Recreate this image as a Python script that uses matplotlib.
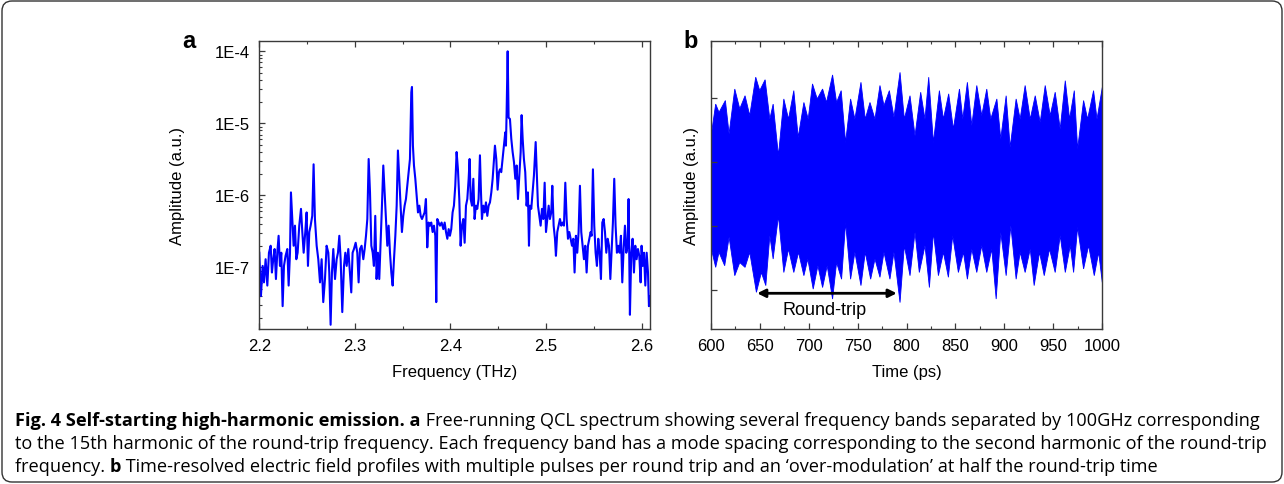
import numpy as np
import matplotlib
matplotlib.use("Agg")
import matplotlib.pyplot as plt
from matplotlib.ticker import MultipleLocator, LogLocator, NullFormatter, FixedLocator
from matplotlib.patches import FancyBboxPatch
from matplotlib.transforms import IdentityTransform

# panel a: spectrum (THz, a.u.)
freq_thz = [
    2.2000, 2.2017, 2.2035, 2.2049, 2.2066, 2.2084, 2.2101, 2.2119, 2.2132, 2.2146,
    2.2160, 2.2174, 2.2188, 2.2202, 2.2216, 2.2230, 2.2244, 2.2258, 2.2275, 2.2293,
    2.2307, 2.2321, 2.2331, 2.2345, 2.2359, 2.2373, 2.2387, 2.2401, 2.2418, 2.2436,
    2.2450, 2.2464, 2.2481, 2.2495, 2.2509, 2.2523, 2.2537, 2.2554, 2.2568, 2.2582,
    2.2600, 2.2617, 2.2635, 2.2652, 2.2669, 2.2687, 2.2704, 2.2722, 2.2732, 2.2746,
    2.2760, 2.2774, 2.2792, 2.2809, 2.2823, 2.2837, 2.2851, 2.2868, 2.2886, 2.2900,
    2.2914, 2.2931, 2.2948, 2.2962, 2.2976, 2.2990, 2.3008, 2.3025, 2.3039, 2.3053,
    2.3070, 2.3088, 2.3102, 2.3116, 2.3130, 2.3144, 2.3158, 2.3172, 2.3186, 2.3199,
    2.3213, 2.3227, 2.3241, 2.3255, 2.3269, 2.3283, 2.3297, 2.3311, 2.3325, 2.3339,
    2.3353, 2.3367, 2.3381, 2.3395, 2.3409, 2.3423, 2.3437, 2.3450, 2.3464, 2.3478,
    2.3492, 2.3506, 2.3520, 2.3534, 2.3548, 2.3562, 2.3576, 2.3590, 2.3597, 2.3607,
    2.3618, 2.3632, 2.3646, 2.3660, 2.3674, 2.3688, 2.3702, 2.3715, 2.3729, 2.3743,
    2.3757, 2.3771, 2.3785, 2.3799, 2.3813, 2.3827, 2.3841, 2.3851, 2.3862, 2.3876,
    2.3890, 2.3907, 2.3925, 2.3939, 2.3953, 2.3967, 2.3981, 2.3994, 2.4008, 2.4022,
    2.4036, 2.4050, 2.4064, 2.4078, 2.4092, 2.4106, 2.4120, 2.4134, 2.4148, 2.4162,
    2.4176, 2.4190, 2.4200, 2.4211, 2.4225, 2.4239, 2.4252, 2.4266, 2.4280, 2.4294,
    2.4308, 2.4319, 2.4329, 2.4343, 2.4357, 2.4371, 2.4385, 2.4399, 2.4413, 2.4427,
    2.4441, 2.4455, 2.4465, 2.4479, 2.4493, 2.4507, 2.4517, 2.4531, 2.4545, 2.4559,
    2.4573, 2.4580, 2.4587, 2.4598, 2.4608, 2.4622, 2.4636, 2.4650, 2.4664, 2.4678,
    2.4692, 2.4706, 2.4720, 2.4734, 2.4744, 2.4755, 2.4768, 2.4782, 2.4796, 2.4810,
    2.4821, 2.4831, 2.4845, 2.4859, 2.4873, 2.4891, 2.4901, 2.4915, 2.4929, 2.4943,
    2.4957, 2.4971, 2.4985, 2.4999, 2.5013, 2.5027, 2.5040, 2.5054, 2.5065, 2.5079,
    2.5093, 2.5103, 2.5117, 2.5131, 2.5145, 2.5159, 2.5173, 2.5187, 2.5201, 2.5215,
    2.5229, 2.5243, 2.5257, 2.5271, 2.5285, 2.5298, 2.5312, 2.5326, 2.5340, 2.5354,
    2.5368, 2.5382, 2.5396, 2.5410, 2.5424, 2.5438, 2.5452, 2.5466, 2.5476, 2.5490,
    2.5504, 2.5518, 2.5532, 2.5546, 2.5560, 2.5574, 2.5588, 2.5602, 2.5616, 2.5630,
    2.5644, 2.5658, 2.5672, 2.5686, 2.5699, 2.5713, 2.5727, 2.5741, 2.5755, 2.5769,
    2.5783, 2.5797, 2.5811, 2.5825, 2.5839, 2.5853, 2.5863, 2.5877, 2.5891, 2.5905,
    2.5919, 2.5933, 2.5947, 2.5961, 2.5975, 2.5989, 2.5999, 2.6010, 2.6024, 2.6038,
    2.6052, 2.6066, 2.6076, 2.6087,
]
amplitude = [
    1.6e-7, 4.0e-8, 1.05e-7, 6.2e-8, 1.3e-7, 5.6e-8, 1.6e-7, 2.0e-7, 8.5e-8, 1.3e-7,
    1.8e-7, 6.9e-8, 1.6e-7, 2.75e-7, 1.05e-7, 1.6e-7, 2.9e-8, 1.05e-7, 1.45e-7, 1.8e-7,
    5.6e-8, 1.6e-7, 1.1e-6, 4.7e-7, 2.0e-7, 3.8e-7, 1.3e-7, 1.6e-7, 3.8e-7, 6.5e-7,
    3.1e-7, 1.6e-7, 3.1e-7, 5.8e-7, 1.05e-7, 3.1e-7, 3.8e-7, 5.2e-7, 2.7e-6, 4.7e-7,
    2.0e-7, 1.3e-7, 6.2e-8, 1.3e-7, 3.3e-8, 6.9e-8, 2.0e-7, 1.6e-7, 8.5e-8, 1.6e-8,
    8.5e-8, 1.8e-7, 6.9e-8, 1.3e-7, 1.6e-7, 2.75e-7, 1.3e-7, 2.4e-8, 1.05e-7, 1.6e-7,
    1.05e-7, 1.8e-7, 8.5e-8, 4.5e-8, 1.6e-7, 1.8e-7, 2.2e-7, 1.6e-7, 6.2e-8, 1.8e-7,
    2.0e-7, 1.3e-7, 1.8e-7, 2.75e-7, 4.7e-7, 3.2e-6, 1.1e-6, 2.0e-7, 1.6e-7, 1.05e-7,
    5.2e-7, 6.9e-8, 1.6e-7, 6.9e-8, 2.2e-7, 7.2e-7, 2.6e-6, 1.1e-6, 4.7e-7, 2.0e-7,
    3.8e-7, 1.6e-7, 8.5e-8, 5.6e-8, 1.3e-7, 2.75e-7, 7.2e-7, 4.2e-6, 1.7e-6, 7.2e-7,
    3.1e-7, 5.2e-7, 7.2e-7, 8.9e-7, 1.36e-6, 2.1e-6, 3.2e-6, 2.7e-5, 3.2e-5, 4.9e-6,
    2.6e-6, 1.7e-6, 9.9e-7, 5.8e-7, 7.2e-7, 5.2e-7, 4.7e-7, 5.2e-7, 5.8e-7, 8.9e-7,
    1.9e-7, 4.2e-7, 3.8e-7, 4.2e-7, 3.1e-7, 3.8e-7, 2.75e-7, 3.3e-8, 4.7e-7, 4.2e-7,
    3.8e-7, 4.2e-7, 3.4e-7, 4.2e-7, 3.1e-7, 2.5e-7, 3.4e-7, 2.75e-7, 3.4e-7, 5.8e-7,
    7.2e-7, 1.36e-6, 4.0e-6, 2.3e-6, 8.9e-7, 2.0e-7, 3.8e-7, 4.7e-7, 2.2e-7, 7.2e-7,
    8.9e-7, 1.7e-6, 3.2e-6, 8.9e-7, 7.2e-7, 1.7e-6, 4.7e-7, 7.2e-7, 6.5e-7, 8.9e-7,
    3.6e-6, 1.1e-6, 4.7e-7, 7.2e-7, 5.8e-7, 8.0e-7, 5.2e-7, 7.2e-7, 8.0e-7, 1.1e-6,
    1.7e-6, 3.2e-6, 4.9e-6, 3.2e-6, 1.2e-6, 2.1e-6, 2.3e-6, 2.1e-6, 3.2e-6, 4.9e-6,
    7.5e-6, 4.9e-6, 1.4e-5, 1.0e-4, 1.2e-5, 1.15e-5, 6.1e-6, 4.0e-6, 2.9e-6, 1.7e-6,
    2.6e-6, 8.9e-7, 1.9e-6, 4.0e-6, 1.3e-5, 6.1e-6, 3.2e-6, 2.1e-6, 7.2e-7, 1.1e-6,
    2.0e-7, 7.2e-7, 6.5e-7, 1.1e-6, 1.9e-6, 5.5e-6, 2.3e-6, 7.2e-7, 5.2e-7, 3.8e-7,
    6.5e-7, 4.7e-7, 1.5e-6, 3.1e-7, 4.7e-7, 7.2e-7, 4.7e-7, 5.8e-7, 1.36e-6, 3.8e-7,
    2.5e-7, 1.45e-7, 3.1e-7, 3.8e-7, 4.7e-7, 3.8e-7, 4.2e-7, 3.8e-7, 1.5e-6, 4.7e-7,
    2.5e-7, 3.1e-7, 2.5e-7, 2.0e-7, 2.5e-7, 8.5e-8, 2.75e-7, 1.6e-7, 3.1e-7, 1.36e-6,
    3.1e-7, 2.0e-7, 1.3e-7, 2.0e-7, 8.5e-8, 2.0e-7, 2.5e-7, 3.1e-7, 2.75e-7, 2.3e-6,
    3.8e-7, 1.6e-7, 1.05e-7, 2.5e-7, 1.6e-7, 6.9e-8, 4.2e-7, 4.7e-7, 3.1e-7, 1.6e-7,
    2.5e-7, 2.0e-7, 6.9e-8, 1.8e-7, 4.2e-7, 1.7e-6, 3.8e-7, 1.6e-7, 2.0e-7, 1.6e-7,
    2.75e-7, 6.2e-8, 1.8e-7, 3.8e-7, 1.6e-7, 2.0e-7, 8.9e-7, 2.2e-8, 1.6e-7, 2.5e-7,
    8.5e-8, 2.0e-7, 1.3e-7, 1.8e-7, 1.45e-7, 6.2e-8, 2.0e-7, 1.05e-7, 1.6e-7, 5.6e-8,
    1.6e-7, 8.5e-8, 2.9e-8, 4.0e-8,
]

# panel b: field envelope (ps, a.u.), upper and lower edges
time_up = [
    600.0, 605.1, 608.5, 615.0, 618.8, 624.6, 629.7, 635.1, 639.9, 646.0,
    650.1, 655.6, 660.4, 663.8, 669.2, 674.7, 679.5, 684.9, 689.4, 695.2,
    699.6, 704.0, 708.8, 714.3, 718.3, 724.5, 728.6, 733.3, 737.8, 742.9,
    747.3, 753.5, 757.9, 762.7, 767.8, 772.9, 777.0, 782.5, 787.2, 793.4,
    797.8, 803.6, 808.7, 814.5, 818.9, 822.7, 827.5, 833.6, 837.7, 843.1,
    847.9, 854.1, 857.5, 862.2, 866.7, 871.8, 876.9, 882.0, 886.1, 892.3,
    896.3, 901.8, 905.9, 912.0, 916.1, 921.2, 926.4, 931.5, 936.6, 941.7,
    946.8, 951.9, 957.0, 962.2, 966.6, 971.4, 974.8, 980.9, 985.0, 991.1,
    994.6, 1000.0,
]
field_up = [
    1.72, 2.81, 2.55, 2.92, 1.88, 3.28, 2.66, 3.07, 2.45, 3.65,
    3.23, 3.57, 2.34, 2.81, 1.20, 2.97, 2.34, 3.23, 1.77, 2.86,
    2.34, 3.44, 2.97, 3.28, 2.86, 3.72, 2.86, 3.23, 1.61, 2.97,
    2.34, 3.49, 2.34, 2.86, 2.34, 3.39, 2.76, 3.23, 2.40, 3.80,
    2.34, 3.07, 1.82, 3.18, 2.34, 3.65, 1.61, 3.23, 2.34, 3.13,
    2.03, 3.28, 2.34, 3.49, 2.14, 3.39, 2.45, 3.28, 2.34, 2.97,
    1.72, 3.07, 1.46, 2.97, 2.34, 3.39, 2.34, 3.07, 2.24, 3.39,
    2.45, 3.18, 2.03, 3.54, 2.34, 3.23, 1.41, 2.92, 2.34, 3.23,
    2.34, 3.33,
]
time_lo = [
    600.0, 605.1, 608.5, 614.3, 618.8, 624.6, 629.7, 635.1, 639.9, 646.7,
    651.8, 656.3, 660.4, 663.8, 669.2, 674.7, 679.5, 684.9, 689.7, 695.2,
    699.2, 704.7, 709.5, 714.3, 719.0, 724.5, 728.6, 733.7, 737.8, 742.9,
    747.3, 753.5, 757.9, 763.4, 767.8, 772.9, 777.0, 783.1, 787.2, 793.4,
    797.8, 803.6, 808.7, 813.1, 818.9, 823.4, 827.5, 832.6, 837.7, 842.8,
    847.2, 853.0, 858.2, 862.2, 866.7, 871.8, 876.9, 882.0, 887.1, 891.6,
    896.3, 901.8, 906.6, 912.0, 916.1, 921.2, 926.4, 930.4, 935.9, 940.7,
    946.1, 951.9, 957.0, 962.2, 967.3, 970.7, 974.8, 980.9, 986.0, 991.8,
    996.3, 1000.0,
]
field_lo = [
    -1.63, -2.29, -1.82, -2.24, -1.35, -2.55, -2.14, -2.29, -1.82, -3.07,
    -2.45, -2.86, -1.30, -2.03, -0.68, -2.45, -1.72, -2.45, -1.82, -2.55,
    -2.03, -2.97, -2.24, -2.92, -2.24, -3.28, -2.14, -2.66, -0.89, -2.66,
    -1.82, -2.86, -1.82, -2.66, -2.03, -2.60, -1.82, -2.66, -1.82, -3.39,
    -1.61, -2.55, -1.20, -2.45, -1.61, -2.92, -1.20, -2.55, -1.82, -2.60,
    -1.30, -2.45, -1.82, -2.66, -1.72, -2.45, -1.61, -2.45, -1.72, -3.28,
    -1.20, -2.55, -0.99, -2.66, -1.82, -2.45, -1.72, -2.86, -1.82, -2.55,
    -1.72, -2.45, -1.30, -2.45, -1.61, -2.45, -1.04, -2.34, -1.61, -2.55,
    -1.82, -2.76,
]

freq_ticks = [2.2, 2.3, 2.4, 2.5, 2.6]
amp_ticks = [1e-7, 1e-6, 1e-5, 1e-4]
amp_labels = ["1E-7", "1E-6", "1E-5", "1E-4"]
time_ticks = [600, 650, 700, 750, 800, 850, 900, 950, 1000]

W, H = 1284, 485
BLUE = "#0000ff"
FRAME = "#3a3a3a"
plt.rcParams["font.family"] = ["Liberation Sans", "DejaVu Sans"]

fig = plt.figure(figsize=(W / 100, H / 100), dpi=100)


def style_axes(ax):
    for sp in ax.spines.values():
        sp.set_color(FRAME)
        sp.set_linewidth(1.0)
    ax.tick_params(which="both", direction="in", top=True, right=False,
                   colors=FRAME, labelcolor="black", labelsize=12)
    ax.tick_params(which="major", length=4, width=0.9, pad=7)
    ax.tick_params(which="minor", length=2.5, width=0.8)


# ---- panel a
ax1 = fig.add_axes([259.3 / W, 1 - 329.5 / H, 390.7 / W, 287.5 / H])
ax1.semilogy(freq_thz, amplitude, color=BLUE, lw=1.5)
ax1.set_xlim(2.2, 2.6087)
ax1.set_ylim(1.42e-8, 1.39e-4)
ax1.set_xticks(freq_ticks)
ax1.set_xticklabels([f"{v:.1f}" for v in freq_ticks])
ax1.xaxis.set_minor_locator(MultipleLocator(0.05))
ax1.yaxis.set_major_locator(FixedLocator(amp_ticks))
ax1.set_yticklabels(amp_labels)
ax1.yaxis.set_minor_locator(LogLocator(base=10, subs=np.arange(2, 10)))
ax1.yaxis.set_minor_formatter(NullFormatter())
style_axes(ax1)
ax1.set_xlabel("Frequency (THz)", fontsize=12)
ax1.set_ylabel("Amplitude (a.u.)", fontsize=12)
ax1.xaxis.set_label_coords(0.5, -0.125)
ax1.yaxis.set_label_coords(-0.19, 0.5)

# ---- panel b
ax2 = fig.add_axes([710.7 / W, 1 - 329.5 / H, 391.6 / W, 287.5 / H])
ax2.fill(np.concatenate([time_up, time_lo[::-1]]),
         np.concatenate([field_up, field_lo[::-1]]),
         facecolor=BLUE, edgecolor=BLUE, lw=0.6)
ax2.set_xlim(600, 1000)
ax2.set_ylim(-4.2, 4.78)
ax2.set_xticks(time_ticks)
ax2.xaxis.set_minor_locator(MultipleLocator(25))
ax2.set_yticks([-3, -1, 1, 3])
ax2.set_yticklabels([])
style_axes(ax2)
ax2.set_xlabel("Time (ps)", fontsize=12)
ax2.set_ylabel("Amplitude (a.u.)", fontsize=12)
ax2.xaxis.set_label_coords(0.5, -0.125)
ax2.yaxis.set_label_coords(-0.03, 0.5)

ax2.annotate("", xy=(647.5, -3.1), xytext=(790, -3.1),
             arrowprops=dict(arrowstyle="<|-|>", color="black", lw=2,
                             mutation_scale=12, shrinkA=0, shrinkB=0))
ax2.text(716.5, -3.62, "Round-trip", fontsize=13, ha="center", va="center")

# panel letters
fig.text(182 / W, 1 - 48 / H, "a", fontsize=17, fontweight="bold")
fig.text(683 / W, 1 - 48 / H, "b", fontsize=17, fontweight="bold")

# ---- caption
cap_font = ["Open Sans", "DejaVu Sans"]
lines = [
    [("Fig. 4 Self-starting high-harmonic emission. a", True),
     (" Free-running QCL spectrum showing several frequency bands separated by 100GHz corresponding", False)],
    [("to the 15th harmonic of the round-trip frequency. Each frequency band has a mode spacing "
      "corresponding to the second harmonic of the round-trip", False)],
    [("frequency. ", False), ("b", True),
     (" Time-resolved electric field profiles with multiple pulses per round trip and an "
      "\u2018over-modulation\u2019 at half the round-trip time", False)],
]
baselines = [426, 449, 472]
renderer = fig.canvas.get_renderer()


def draw_line(runs, y_px, size):
    x = 15.0
    arts = []
    for s, bold in runs:
        t = fig.text(x / W, 1 - y_px / H, s, fontsize=size, family=cap_font,
                     fontweight="bold" if bold else "normal", va="baseline")
        x = t.get_window_extent(renderer).x1
        arts.append(t)
    return x, arts


# fit the caption size so the first two lines end near the right edge
scales = []
for runs, target in [(lines[0], 1265), (lines[1], 1266)]:
    end, tmp = draw_line(runs, baselines[0], 12)
    for t in tmp:
        t.remove()
    scales.append((target - 15) / (end - 15))
cap_size = 12 * min(scales)
for runs, yb in zip(lines, baselines):
    draw_line(runs, yb, cap_size)

# rounded border
fig.add_artist(FancyBboxPatch((2, 2), W - 4, H - 4,
                              boxstyle="round,pad=0,rounding_size=10",
                              transform=IdentityTransform(),
                              facecolor="none", edgecolor="#333333", lw=1.0))

fig.savefig("out.png", dpi=100)
